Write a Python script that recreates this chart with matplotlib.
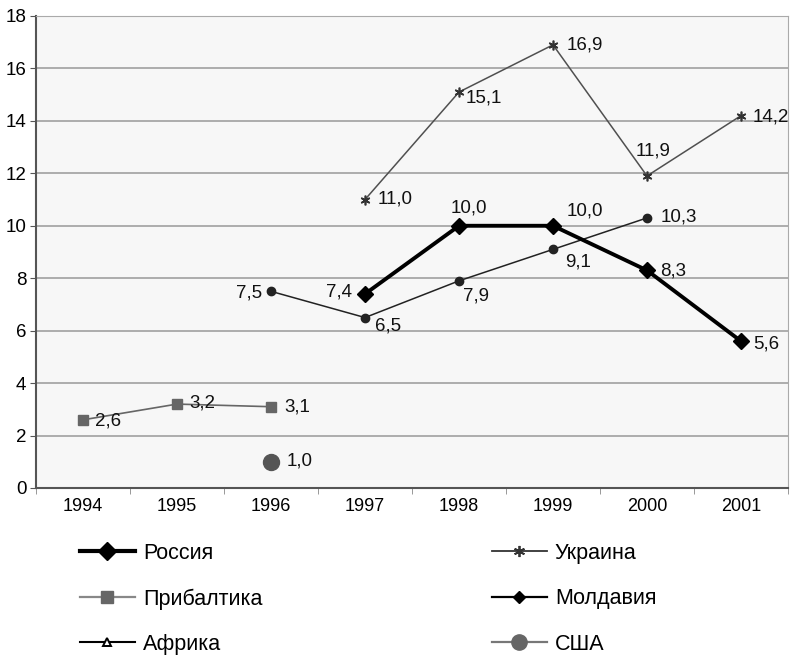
import matplotlib
matplotlib.use("Agg")
import matplotlib.pyplot as plt
from matplotlib.lines import Line2D
import numpy as np

years = ["1994", "1995", "1996", "1997", "1998", "1999", "2000", "2001"]

russia_years = ["1997", "1998", "1999", "2000", "2001"]
russia_vals = [7.4, 10.0, 10.0, 8.3, 5.6]

ukraine_years = ["1997", "1998", "1999", "2000", "2001"]
ukraine_vals = [11.0, 15.1, 16.9, 11.9, 14.2]

baltic_years = ["1994", "1995", "1996"]
baltic_vals = [2.6, 3.2, 3.1]

moldova_years = ["1996", "1997", "1998", "1999", "2000"]
moldova_vals = [7.5, 6.5, 7.9, 9.1, 10.3]

usa_years = ["1996"]
usa_vals = [1.0]

plt.rcParams['font.family'] = ['Liberation Sans', 'DejaVu Sans']

fig = plt.figure(figsize=(8.02, 6.61), dpi=100)
ax = fig.add_axes([36/802, 1 - 488/661, 752/802, 472/661])
ax.set_facecolor('#f7f7f7')

idx = {y: i for i, y in enumerate(years)}

def xs(ylist):
    return [idx[y] for y in ylist]

ax.plot(xs(ukraine_years), ukraine_vals, color='#505050', lw=1.1, marker=(6, 2, 0),
        ms=7, mew=1.2, mec='#333333', zorder=3)
ax.plot(xs(moldova_years), moldova_vals, color='#222222', lw=1.1, marker='o',
        ms=6, zorder=3)
ax.plot(xs(russia_years), russia_vals, color='#000000', lw=2.8, marker='D',
        ms=8.5, zorder=4)
ax.plot(xs(baltic_years), baltic_vals, color='#666666', lw=1.2, marker='s',
        ms=7, zorder=3)
ax.plot(xs(usa_years), usa_vals, color='#555555', lw=0, marker='o',
        ms=11.5, zorder=3)

def fmt(v):
    return f"{v:.1f}".replace('.', ',')

def label(ylist, vals, offsets):
    for x, v, off in zip(xs(ylist), vals, offsets):
        dx, dy, ha = off
        ax.annotate(fmt(v), (x, v), xytext=(dx, dy), textcoords='offset pixels',
                    ha=ha, va='center', fontsize=13.5, color='#111111', zorder=5)

label(russia_years, russia_vals,
      [(-13, 2, 'right'), (-8, 18, 'left'), (14, 15, 'left'), (13, -1, 'left'), (12, -3, 'left')])
label(ukraine_years, ukraine_vals,
      [(13, 1, 'left'), (7, -6, 'left'), (14, 0, 'left'), (-11, 25, 'left'), (12, -1, 'left')])
label(baltic_years, baltic_vals,
      [(12, -1, 'left'), (12, 1, 'left'), (13, 0, 'left')])
label(moldova_years, moldova_vals,
      [(-9, -2, 'right'), (10, -8, 'left'), (4, -15, 'left'), (12, -13, 'left'), (14, 1, 'left')])
label(usa_years, usa_vals, [(16, 1, 'left')])

ax.set_xlim(-0.5, len(years) - 0.5)
ax.set_ylim(0, 18)
ax.set_yticks(np.arange(0, 19, 2))
ax.set_xticks(range(len(years)))
ax.set_xticklabels(years)
ax.set_xticks(np.arange(-0.5, len(years), 1), minor=True)
ax.tick_params(axis='x', which='major', length=0, labelsize=13, pad=7)
ax.tick_params(axis='x', which='minor', length=4, color='#888888')
ax.tick_params(axis='y', length=4, labelsize=13.5, color='#555555', pad=3)
ax.grid(axis='y', color='#a0a0a0', lw=1.2)
ax.set_axisbelow(True)
for s in ['top', 'right']:
    ax.spines[s].set_color('#aaaaaa')
for s in ['left', 'bottom']:
    ax.spines[s].set_color('#555555')
    ax.spines[s].set_linewidth(1.5)

handles = [
    Line2D([], [], color='black', lw=3, marker='D', ms=9),
    Line2D([], [], color='#888888', lw=1.6, marker='s', ms=8, mfc='#666666', mec='#666666'),
    Line2D([], [], color='black', lw=1.5, marker='^', ms=6, mfc='white', mew=1.4),
    Line2D([], [], color='#333333', lw=1.3, marker=(6, 2, 0), ms=8, mew=1.3),
    Line2D([], [], color='black', lw=1.6, marker='D', ms=6),
    Line2D([], [], color='#777777', lw=1.6, marker='o', ms=11, mfc='#666666', mec='#666666'),
]
names = ["Россия", "Прибалтика", "Африка", "Украина", "Молдавия", "США"]

common = dict(loc='upper left', frameon=False, handlelength=2.55, labelspacing=1.13,
              handletextpad=0.37, borderpad=0, borderaxespad=0,
              prop={'family': ['Liberation Sans', 'DejaVu Sans'], 'size': 15.5})
leg1 = fig.legend(handles[:3], names[:3], bbox_to_anchor=(80/802, 1 - 543/661), **common)
leg2 = fig.legend(handles[3:], names[3:], bbox_to_anchor=(492/802, 1 - 543/661), **common)

fig.savefig("out.png", dpi=100)
